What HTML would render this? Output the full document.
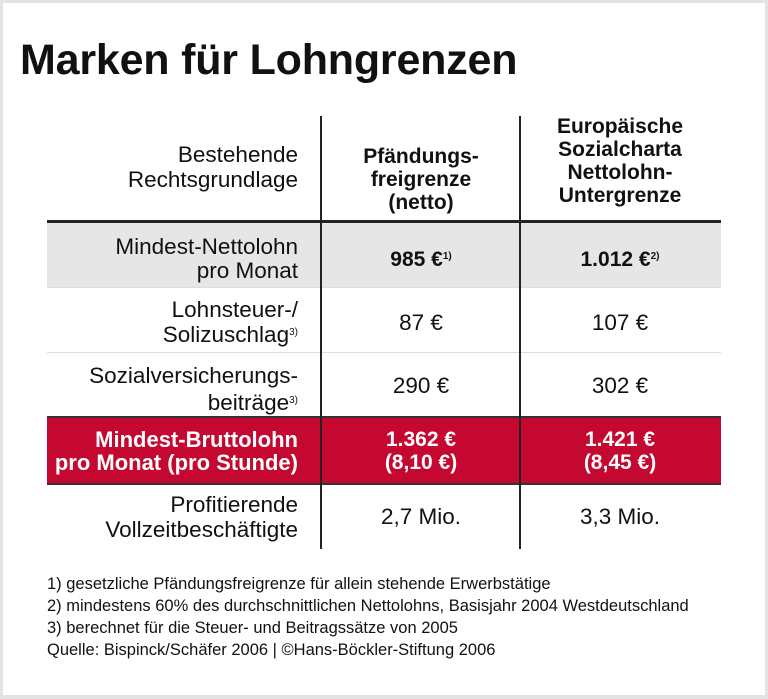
<!DOCTYPE html>
<html><head><meta charset="utf-8"><style>
*{margin:0;padding:0;box-sizing:border-box}
body{width:768px;height:699px;background:#fff;position:relative;overflow:hidden;font-family:"Liberation Sans",sans-serif;color:#111}
.frame{position:absolute;left:0;top:0;width:768px;height:699px;border:3px solid #e3e3e3;border-bottom-width:4px}
.t{position:absolute;white-space:nowrap}
.title{left:20px;top:36px;font-size:43px;font-weight:bold;letter-spacing:-0.2px}
.row{position:absolute;left:47px;width:674px}
.vl{position:absolute;width:2px;background:#222;top:116px;height:433px}
.lab{position:absolute;right:470px;text-align:right;font-size:22.5px;line-height:24px;white-space:nowrap}
.c{position:absolute;text-align:center;font-size:22.5px;line-height:25px;width:200px}
.b{font-weight:bold;font-size:21px;line-height:23px}
sup{font-size:10px;vertical-align:7px}
.fn{position:absolute;left:47px;font-size:16.5px;line-height:22px;white-space:nowrap}
</style></head><body>
<div class="frame"></div>
<div class="t title">Marken für Lohngrenzen</div>

<div class="row" style="top:222px;height:65px;background:#e6e6e6"></div>
<div class="row" style="top:220px;height:3px;background:#222"></div>
<div class="row" style="top:287px;height:1px;background:#ddd"></div>
<div class="row" style="top:352px;height:1px;background:#ddd"></div>
<div class="row" style="top:417px;height:67px;background:#c4082f"></div>
<div class="row" style="top:416px;height:2px;background:#333"></div>
<div class="row" style="top:483px;height:2px;background:#333"></div>

<div class="vl" style="left:320px"></div>
<div class="vl" style="left:519px"></div>

<div class="lab" style="top:142px;line-height:25px">Bestehende<br>Rechtsgrundlage</div>
<div class="c b" style="left:321px;top:145px">Pfändungs-<br>freigrenze<br>(netto)</div>
<div class="c b" style="left:520px;top:115px">Europäische<br>Sozialcharta<br>Nettolohn-<br>Untergrenze</div>

<div class="lab" style="top:235px">Mindest-Nettolohn<br>pro Monat</div>
<div class="c b" style="left:321px;top:245px">985 €<sup>1)</sup></div>
<div class="c b" style="left:520px;top:245px">1.012 €<sup>2)</sup></div>

<div class="lab" style="top:298px;line-height:23px">Lohnsteuer-/<br>Solizuschlag<sup>3)</sup></div>
<div class="c" style="left:321px;top:310px">87 €</div>
<div class="c" style="left:520px;top:310px">107 €</div>

<div class="lab" style="top:363px;line-height:25px">Sozialversicherungs-<br>beiträge<sup>3)</sup></div>
<div class="c" style="left:321px;top:373px">290 €</div>
<div class="c" style="left:520px;top:373px">302 €</div>

<div class="lab" style="top:428px;color:#fff;font-weight:bold;font-size:22px;line-height:23px">Mindest-Bruttolohn<br>pro Monat (pro Stunde)</div>
<div class="c b" style="left:321px;top:428px;color:#fff">1.362 €<br>(8,10 €)</div>
<div class="c b" style="left:520px;top:428px;color:#fff">1.421 €<br>(8,45 €)</div>

<div class="lab" style="top:492px;line-height:25px">Profitierende<br>Vollzeitbeschäftigte</div>
<div class="c" style="left:321px;top:504px">2,7 Mio.</div>
<div class="c" style="left:520px;top:504px">3,3 Mio.</div>

<div class="fn" style="top:573px">1) gesetzliche Pfändungsfreigrenze für allein stehende Erwerbstätige<br>2) mindestens 60% des durchschnittlichen Nettolohns, Basisjahr 2004 Westdeutschland<br>3) berechnet für die Steuer- und Beitragssätze von 2005<br>Quelle: Bispinck/Schäfer 2006 | ©Hans-Böckler-Stiftung 2006</div>
</body></html>
